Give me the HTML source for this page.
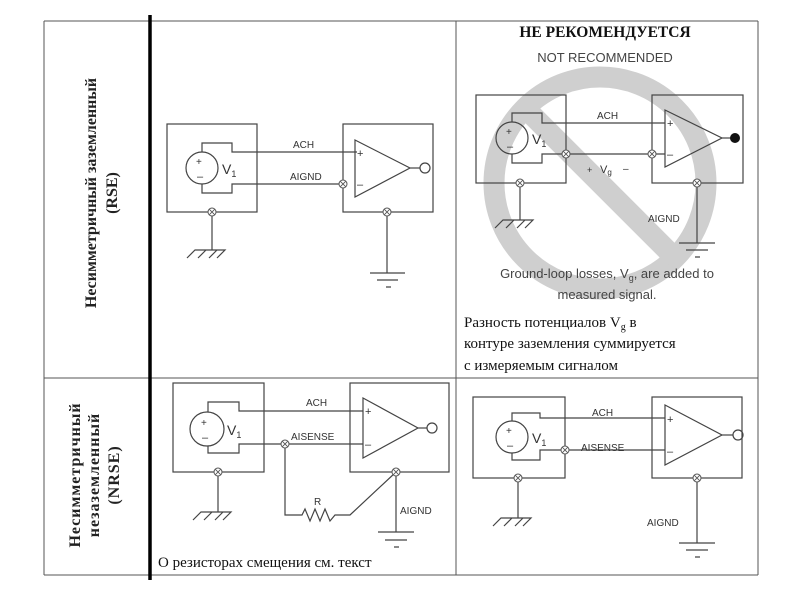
<!DOCTYPE html>
<html><head><meta charset="utf-8"><style>
html,body{margin:0;padding:0;background:#fff;width:800px;height:600px;overflow:hidden}
svg{display:block}
.s{font-family:"Liberation Serif","Noto Serif CJK SC",serif}
.a{font-family:"Liberation Sans",sans-serif}
</style></head><body>
<svg width="800" height="600" viewBox="0 0 800 600" xmlns="http://www.w3.org/2000/svg">
<defs>
<g id="nd"><circle r="4" fill="#fff" stroke="#555" stroke-width="1"/><path d="M-2.8,-2.8L2.8,2.8M-2.8,2.8L2.8,-2.8" stroke="#555" stroke-width="0.9"/></g>
</defs>
<g stroke="#cfcfcf" stroke-width="21" fill="none">
<circle cx="600" cy="183" r="106"/>
<line x1="525" y1="108" x2="675" y2="258"/>
</g>
<g stroke="#555" stroke-width="1" fill="none">
<line x1="44" y1="21" x2="758" y2="21"/>
<line x1="44" y1="378" x2="758" y2="378"/>
<line x1="44" y1="575" x2="758" y2="575"/>
<line x1="44" y1="21" x2="44" y2="575"/>
<line x1="456" y1="21" x2="456" y2="575"/>
<line x1="758" y1="21" x2="758" y2="575"/>
</g>
<line x1="150" y1="15" x2="150" y2="580" stroke="#000" stroke-width="3.5"/>
<g class="s" font-weight="bold" font-size="16" fill="#222" text-anchor="middle">
<text transform="translate(96,193) rotate(-90)">Несимметричный  заземленный</text>
<text transform="translate(117,193) rotate(-90)">(RSE)</text>
<text transform="translate(80,475) rotate(-90)" letter-spacing="1">Несимметричный</text>
<text transform="translate(99,475) rotate(-90)" letter-spacing="1">незаземленный</text>
<text transform="translate(119,475) rotate(-90)" letter-spacing="1">(NRSE)</text>
</g>

<g stroke="#444" stroke-width="1.2" fill="none">
<rect x="167" y="124" width="90" height="88"/>
<circle cx="202" cy="168" r="16"/>
<path d="M202,152V143H232V152H357M202,184V193H232V184H343"/>
<rect x="343" y="124" width="90" height="88"/>
<path d="M355,140L410,168L355,197Z"/>
<path d="M410,168H420"/><circle cx="425" cy="168" r="5"/>
<path d="M212,212V250M187,258L195,250H225L217,258M198,258L206,250M209,258L217,250"/>
<path d="M387,212V273M370,273H405M377,280H398M386,287H391"/>
<rect x="476" y="95" width="90" height="88"/>
<circle cx="512" cy="138" r="16"/>
<path d="M512,122V113H542V123H665M512,154V163H542V154H665"/>
<rect x="652" y="95" width="91" height="88"/>
<path d="M665,110L722,138L665,167Z"/>
<path d="M722,138H733"/>
<path d="M520,183V220M495,228L503,220H533L525,228M506,228L514,220M517,228L525,220"/>
<path d="M697,183V243M679,243H715M686,250H708M695,257H700"/>
<rect x="173" y="383" width="91" height="89"/>
<circle cx="207" cy="429" r="17"/>
<path d="M208,412V402H239V411H363M208,446V453H239V444H363"/>
<rect x="350" y="383" width="99" height="89"/>
<path d="M363,398L418,428L363,458Z"/>
<path d="M418,428H427"/><circle cx="432" cy="428" r="5"/>
<path d="M218,472V512M193,520L201,512H231L223,520M204,520L212,512M215,520L223,512"/>
<path d="M285,444V515H302L305,509L310,521L315,509L320,521L325,509L330,521L335,515H350L396,472"/>
<path d="M396,472V532M378,532H414M385,540H407M394,547H399"/>
<rect x="473" y="397" width="92" height="81"/>
<circle cx="512" cy="437" r="16"/>
<path d="M512,421V413H540V418H665M512,453V460H540V450H665"/>
<rect x="652" y="397" width="90" height="81"/>
<path d="M665,405L722,435L665,465Z"/>
<path d="M722,435H733"/><circle cx="738" cy="435" r="5"/>
<path d="M518,478V518M493,526L501,518H531L523,526M504,526L512,518M515,526L523,518"/>
<path d="M697,478V543M679,543H715M686,550H708M695,557H700"/>
</g>
<circle cx="735" cy="138" r="5" fill="#111"/>
<use href="#nd" x="343" y="184"/><use href="#nd" x="212" y="212"/><use href="#nd" x="387" y="212"/>
<use href="#nd" x="566" y="154"/><use href="#nd" x="652" y="154"/><use href="#nd" x="520" y="183"/><use href="#nd" x="697" y="183"/>
<use href="#nd" x="285" y="444"/><use href="#nd" x="218" y="472"/><use href="#nd" x="396" y="472"/>
<use href="#nd" x="565" y="450"/><use href="#nd" x="518" y="478"/><use href="#nd" x="697" y="478"/>
<g class="a" fill="#333" font-size="10">
<text x="293" y="148">ACH</text><text x="290" y="180">AIGND</text>
<text x="597" y="119">ACH</text><text x="648" y="222">AIGND</text>
<text x="306" y="406">ACH</text><text x="291" y="440">AISENSE</text><text x="400" y="514">AIGND</text><text x="314" y="505">R</text>
<text x="592" y="416">ACH</text><text x="581" y="451">AISENSE</text><text x="647" y="526">AIGND</text>
</g>
<g class="a" fill="#333">
<text x="196" y="165" font-size="10">+</text><text x="197" y="180" font-size="11">–</text><text x="222" y="174" font-size="14">V<tspan font-size="9" dy="3">1</tspan></text>
<text x="506" y="135" font-size="10">+</text><text x="507" y="150" font-size="11">–</text><text x="532" y="144" font-size="14">V<tspan font-size="9" dy="3">1</tspan></text>
<text x="201" y="426" font-size="10">+</text><text x="202" y="441" font-size="11">–</text><text x="227" y="435" font-size="14">V<tspan font-size="9" dy="3">1</tspan></text>
<text x="506" y="434" font-size="10">+</text><text x="507" y="449" font-size="11">–</text><text x="532" y="443" font-size="14">V<tspan font-size="9" dy="3">1</tspan></text>
<text x="357" y="157" font-size="11">+</text><text x="357" y="188" font-size="11">–</text>
<text x="667" y="127" font-size="11">+</text><text x="667" y="158" font-size="11">–</text>
<text x="365" y="415" font-size="11">+</text><text x="365" y="448" font-size="11">–</text>
<text x="667" y="423" font-size="11">+</text><text x="667" y="455" font-size="11">–</text>
<text x="587" y="173" font-size="9">+</text><text x="600" y="173" font-size="11">V<tspan font-size="8" dy="2">g</tspan></text><text x="623" y="172" font-size="10">–</text>
</g>
<text class="s" x="605" y="37" font-size="15.5" font-weight="bold" text-anchor="middle" fill="#111">НЕ РЕКОМЕНДУЕТСЯ</text>
<text class="a" x="605" y="62" font-size="13" text-anchor="middle" fill="#444">NOT RECOMMENDED</text>
<text class="a" x="607" y="278" font-size="13" text-anchor="middle" fill="#444">Ground-loop losses, V<tspan font-size="9" dy="3">g</tspan><tspan dy="-3">, are added to</tspan></text>
<text class="a" x="607" y="299" font-size="13" text-anchor="middle" fill="#444">measured signal.</text>
<g class="s" font-size="15" fill="#111">
<text x="464" y="327">Разность потенциалов V<tspan font-size="10" dy="3">g</tspan><tspan dy="-3"> в</tspan></text>
<text x="464" y="348">контуре заземления суммируется</text>
<text x="464" y="370">с измеряемым сигналом</text>
<text x="158" y="567">О резисторах смещения см. текст</text>
</g>
</svg>
</body></html>
